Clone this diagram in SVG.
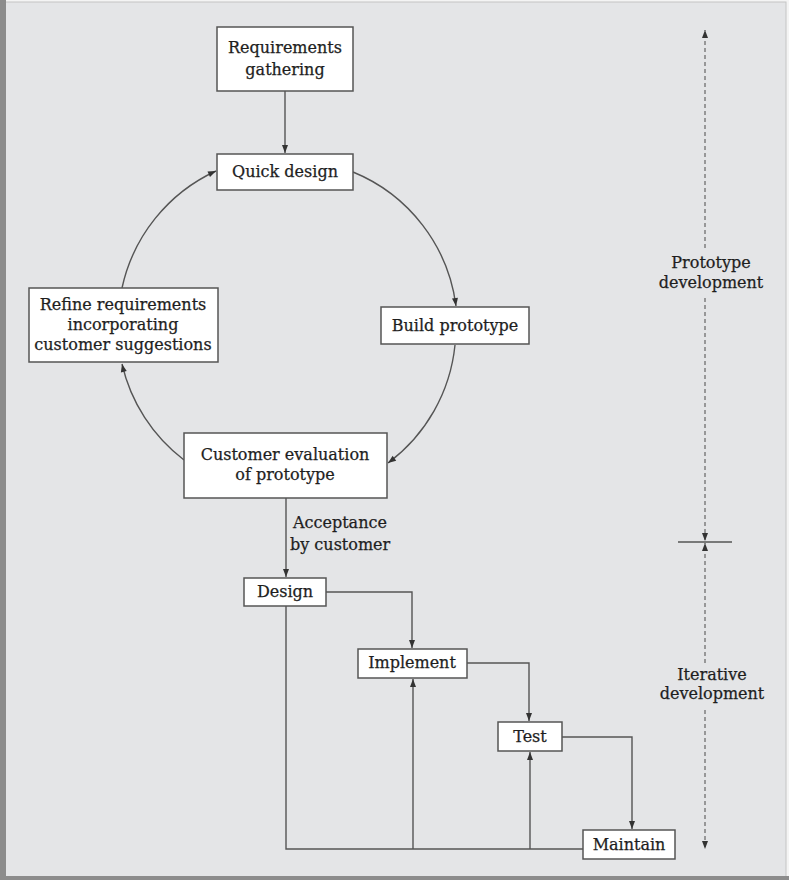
<svg xmlns="http://www.w3.org/2000/svg" width="789" height="880" viewBox="0 0 789 880">
<defs>
<marker id="ah" markerWidth="10" markerHeight="10" refX="9" refY="5" orient="auto" markerUnits="userSpaceOnUse">
<path d="M1,2 L9,5 L1,8 Z" fill="#333"/>
</marker>
<style>
.box{fill:#fff;stroke:#555;stroke-width:1.5}
.ln{fill:none;stroke:#555;stroke-width:1.4}
.dash{fill:none;stroke:#777;stroke-width:1.4;stroke-dasharray:4,3}
text{font-family:"DejaVu Serif","Liberation Serif",serif;font-size:16px;fill:#1e1e1e;text-anchor:middle;stroke:#1e1e1e;stroke-width:0.25}
</style>
</defs>
<rect x="0" y="0" width="789" height="880" fill="#f4f4f4"/>
<rect x="3" y="2" width="783" height="876" fill="#e4e5e7" stroke="#c4c4c4" stroke-width="1"/>
<rect x="0" y="0" width="6" height="880" fill="#8c8c8c"/>
<rect x="0" y="876" width="789" height="4" fill="#8c8c8c"/>

<g id="connectors">
<line class="ln" x1="285" y1="91" x2="285" y2="153" marker-end="url(#ah)"/>
<path class="ln" d="M353,172 A168,168 0 0 1 456,306" marker-end="url(#ah)"/>
<path class="ln" d="M455,345 A168,168 0 0 1 388,463" marker-end="url(#ah)"/>
<path class="ln" d="M184,460 A168,168 0 0 1 122,364" marker-end="url(#ah)"/>
<path class="ln" d="M122,288 A168,168 0 0 1 216,171" marker-end="url(#ah)"/>
<line class="ln" x1="286" y1="498" x2="286" y2="577" marker-end="url(#ah)"/>
<polyline class="ln" points="326,592 412,592 412,648" marker-end="url(#ah)"/>
<polyline class="ln" points="467,663 529,663 529,721" marker-end="url(#ah)"/>
<polyline class="ln" points="562,737 632,737 632,829" marker-end="url(#ah)"/>
<polyline class="ln" points="286,606 286,849 583,849"/>
<line class="ln" x1="413" y1="849" x2="413" y2="679" marker-end="url(#ah)"/>
<line class="ln" x1="530" y1="849" x2="530" y2="752" marker-end="url(#ah)"/>
<line class="dash" x1="705" y1="248" x2="705" y2="30" marker-end="url(#ah)"/>
<line class="dash" x1="705" y1="298" x2="705" y2="541" marker-end="url(#ah)"/>
<line class="dash" x1="705" y1="663" x2="705" y2="543" marker-end="url(#ah)"/>
<line class="dash" x1="705" y1="710" x2="705" y2="849" marker-end="url(#ah)"/>
<line class="ln" x1="678" y1="542" x2="732" y2="542" stroke="#888"/>
</g>

<g id="req">
<rect class="box" x="217" y="27" width="136" height="64"/>
<text x="285" y="53">Requirements</text>
<text x="285" y="75">gathering</text>
</g>
<g id="quick">
<rect class="box" x="217" y="154" width="136" height="36"/>
<text x="285" y="177">Quick design</text>
</g>
<g id="build">
<rect class="box" x="381" y="307" width="148" height="37"/>
<text x="455" y="331">Build prototype</text>
</g>
<g id="eval">
<rect class="box" x="184" y="433" width="203" height="65"/>
<text x="285" y="460">Customer evaluation</text>
<text x="285" y="480">of prototype</text>
</g>
<g id="refine">
<rect class="box" x="29" y="288" width="189" height="74"/>
<text x="123" y="310">Refine requirements</text>
<text x="123" y="330">incorporating</text>
<text x="123" y="350">customer suggestions</text>
</g>
<g id="accept">
<text x="293" y="528" style="text-anchor:start">Acceptance</text>
<text x="290" y="550" style="text-anchor:start">by customer</text>
</g>
<g id="design">
<rect class="box" x="244" y="578" width="82" height="28"/>
<text x="285" y="597">Design</text>
</g>
<g id="implement">
<rect class="box" x="358" y="649" width="109" height="29"/>
<text x="412" y="668">Implement</text>
</g>
<g id="test">
<rect class="box" x="498" y="722" width="64" height="29"/>
<text x="530" y="742">Test</text>
</g>
<g id="maintain">
<rect class="box" x="583" y="830" width="92" height="29"/>
<text x="629" y="850">Maintain</text>
</g>
<g id="labels">
<text x="711" y="268">Prototype</text>
<text x="711" y="288">development</text>
<text x="712" y="680">Iterative</text>
<text x="712" y="699">development</text>
</g>
</svg>
